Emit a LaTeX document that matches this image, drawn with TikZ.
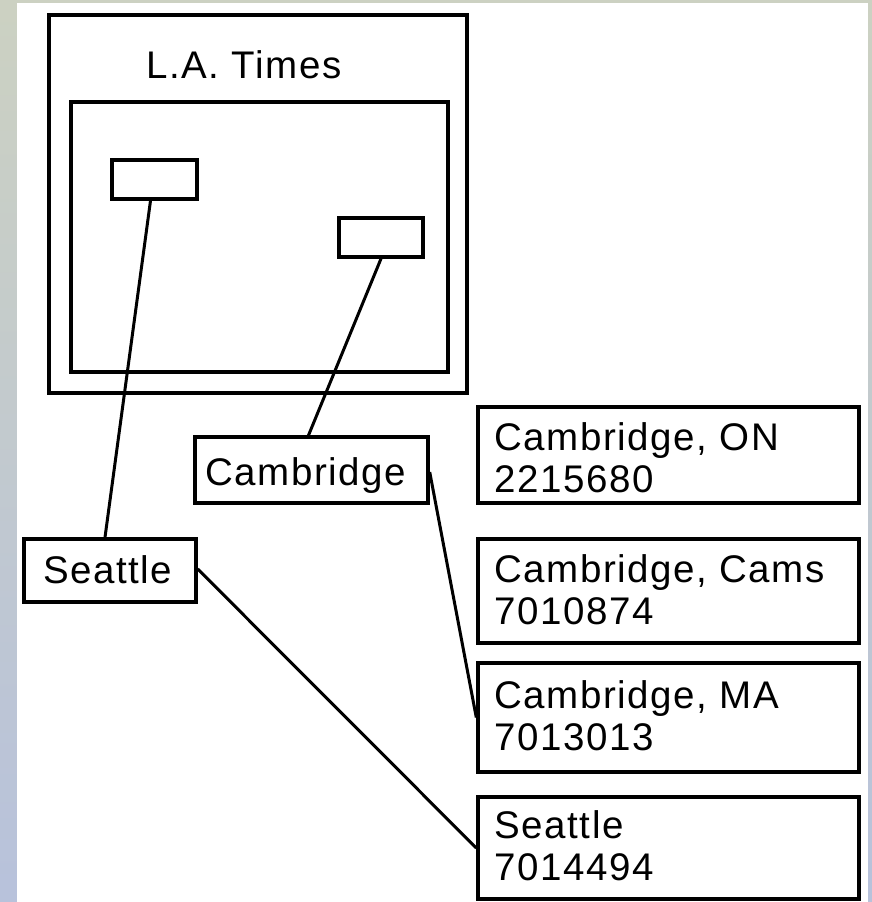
\documentclass[tikz,border=0pt]{standalone}
\usepackage{fontspec}
\setmainfont{Liberation Sans}[LetterSpace=4]
\begin{document}
\begin{tikzpicture}[x=1pt,y=-1pt,
  box/.style={draw=black, line width=3.4pt, inner sep=0pt, fill=white},
  txt/.style={font=\fontsize{38.5}{42}\selectfont, align=left, inner sep=0pt},
  link/.style={draw=black, line width=3pt}]
\useasboundingbox (0,0) rectangle (872,902);
% background photo strips
\shade[top color={rgb,1:red,0.80;green,0.82;blue,0.76}, bottom color={rgb,1:red,0.72;green,0.76;blue,0.86}] (0,0) rectangle (872,902);
\fill[white] (17,3) rectangle (868,902);
% L.A. Times frame
\node[box, minimum width=418pt, minimum height=378pt] (outer) at (258,204) {};
\node[txt, anchor=base] (title) at (244,78) {L.A. Times};
\node[box, minimum width=377pt, minimum height=270pt] (inner) at (259.5,237) {};
\node[box, minimum width=85pt, minimum height=39pt] (s1) at (154.5,179.5) {};
\node[box, minimum width=84pt, minimum height=39pt] (s2) at (381,237.5) {};
% left labels
\node[box, minimum width=233pt, minimum height=66pt] (cam) at (311.5,470) {};
\node[txt, anchor=base west] (camt) at (205,485) {Cambridge};
\node[box, minimum width=172pt, minimum height=63pt] (sea) at (110,570.5) {};
\node[txt, anchor=base west] (seat) at (43,583) {Seattle};
% right records
\node[box, minimum width=381pt, minimum height=96pt] (on) at (668.5,455) {};
\node[txt, anchor=north west] (ont) at ([shift={(18,17)}]on.north west) {Cambridge, ON\\2215680};
\node[box, minimum width=381pt, minimum height=104pt] (cams) at (668.5,591) {};
\node[txt, anchor=north west] (camst) at ([shift={(18,17)}]cams.north west) {Cambridge, Cams\\7010874};
\node[box, minimum width=381pt, minimum height=109pt] (ma) at (668.5,717.5) {};
\node[txt, anchor=north west] (mat) at ([shift={(18,19)}]ma.north west) {Cambridge, MA\\7013013};
\node[box, minimum width=381pt, minimum height=102pt] (sea2) at (668.5,848) {};
\node[txt, anchor=north west] (sea2t) at ([shift={(18,15)}]sea2.north west) {Seattle\\7014494};
% connectors
\draw[link] ([xshift=-4pt]s1.south) -- ([xshift=-5pt]sea.north);
\draw[link] (s2.south) -- ([xshift=-3pt]cam.north);
\draw[link] ([yshift=-2pt]cam.east) -- (ma.west);
\draw[link] ([yshift=1.5pt]sea.east) -- (sea2.west);
\end{tikzpicture}
\end{document}
